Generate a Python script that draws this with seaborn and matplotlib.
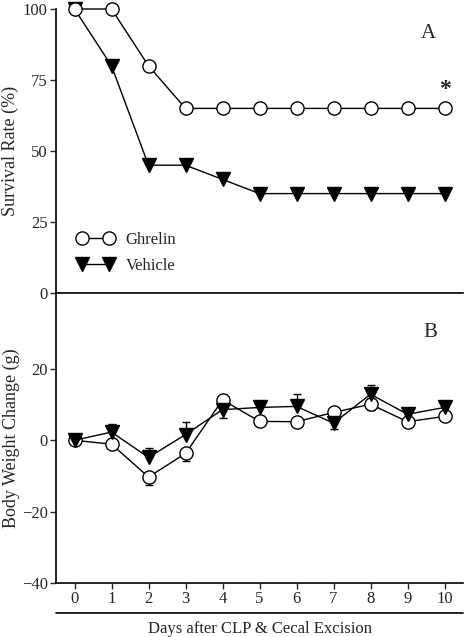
import numpy as np
import pandas as pd
import matplotlib
matplotlib.use("Agg")
import matplotlib.pyplot as plt
import seaborn as sns

# Dados
dias = list(range(11))

# Painel A - sobrevivencia (%)
sobrev_ghrelin = [100, 100, 80, 65, 65, 65, 65, 65, 65, 65, 65]
sobrev_vehicle = [100, 80, 45, 45, 40, 35, 35, 35, 35, 35, 35]

# Painel B - variacao de peso (g)
peso_ghrelin = [0, -1.1, -10.3, -3.7, 11.3, 5.3, 5.2, 7.8, 10.1, 5.2, 6.7]
peso_vehicle = [0, 2.3, -4.8, 1.6, 8.6, 9.2, 9.5, 4.8, 12.9, 7.3, 9.2]
erro_ghrelin_baixo = [0.5, 0.8, 2.2, 2.1, 1.5, 0.8, 0.8, 0.8, 1.5, 0.8, 0.8]
erro_ghrelin_cima = [0, 0, 0, 0, 1.5, 0, 0, 0, 0, 0, 0]
erro_vehicle_baixo = [0, 0, 0, 0, 2.3, 0, 0, 1.5, 0, 0, 0]
erro_vehicle_cima = [0.5, 2.4, 2.6, 3.6, 2.3, 0.8, 3.4, 1.0, 2.6, 0.8, 0.8]

sns.set_style("ticks")
plt.rcParams['font.family'] = ['Liberation Serif', 'DejaVu Serif']
plt.rcParams['font.size'] = 12

fig = plt.figure(figsize=(4.65, 6.37), dpi=100)
W, H = 465, 637
esq, dir_ = 56 / W, 463 / W
ax_a = fig.add_axes([esq, 1 - 293 / H, dir_ - esq, (293 - 9) / H])
ax_b = fig.add_axes([esq, 1 - 583 / H, dir_ - esq, (583 - 294) / H])

estilo_g = dict(marker='o', markersize=9.5, markerfacecolor='white', markeredgecolor='black',
                markeredgewidth=1, color='black', linewidth=1)
estilo_v = dict(marker='v', markersize=10.5, markerfacecolor='black', markeredgecolor='black',
                markeredgewidth=1, color='black', linewidth=1)

# === PAINEL A ===
sns.lineplot(x=dias, y=sobrev_vehicle, ax=ax_a, label='Vehicle', clip_on=False, zorder=3, **estilo_v)
sns.lineplot(x=dias, y=sobrev_ghrelin, ax=ax_a, label='Ghrelin', clip_on=False, zorder=4, **estilo_g)
ax_a.set_xlim(-0.5, 10.5)
ax_a.set_ylim(0, 100)
ax_a.set_yticks([0, 25, 50, 75, 100])
ax_a.set_xticks([])
ax_a.set_xlabel('')
ax_a.set_ylabel('Survival Rate (%)', fontsize=13, labelpad=3)
ax_a.text(0.915, 0.915, 'A', transform=ax_a.transAxes, fontsize=15, ha='center', va='center')
ax_a.text(dias[-1], sobrev_ghrelin[-1] + 6.5, '*', fontsize=17, fontweight='bold', ha='center', va='center')
h, l = ax_a.get_legend_handles_labels()
ax_a.legend(h[::-1], l[::-1], numpoints=2, frameon=False, loc='lower left',
            bbox_to_anchor=(0.015, 0.015), fontsize=12, handlelength=2.2,
            handletextpad=0.7, labelspacing=0.6)
sns.despine(ax=ax_a)

# === PAINEL B ===
ax_b.errorbar(dias, peso_ghrelin, yerr=[erro_ghrelin_baixo, erro_ghrelin_cima], fmt='none',
              ecolor='black', elinewidth=1, capsize=3, zorder=2)
ax_b.errorbar(dias, peso_vehicle, yerr=[erro_vehicle_baixo, erro_vehicle_cima], fmt='none',
              ecolor='black', elinewidth=1, capsize=3, zorder=2)
sns.lineplot(x=dias, y=peso_ghrelin, ax=ax_b, zorder=3, **estilo_g)
sns.lineplot(x=dias, y=peso_vehicle, ax=ax_b, zorder=4, **estilo_v)
ax_b.set_xlim(-0.5, 10.5)
ax_b.set_ylim(-40, 41)
ax_b.set_yticks([-40, -20, 0, 20])
ax_b.set_xticks(dias)
ax_b.set_ylabel('Body Weight Change (g)', fontsize=13, labelpad=1)
ax_b.set_xlabel('Days after CLP & Cecal Excision', fontsize=12, labelpad=10)
ax_b.text(0.92, 0.868, 'B', transform=ax_b.transAxes, fontsize=15, ha='center', va='center')
ax_b.plot([0, 1], [-0.105, -0.105], transform=ax_b.transAxes, color='black', lw=1.2, clip_on=False)
sns.despine(ax=ax_b)

for ax in (ax_a, ax_b):
    ax.tick_params(direction='out', length=4, width=1, labelsize=12, pad=2)
    for s in ('left', 'bottom'):
        ax.spines[s].set_linewidth(1.2)
        ax.spines[s].set_color('black')

fig.savefig('out.png', dpi=100)
